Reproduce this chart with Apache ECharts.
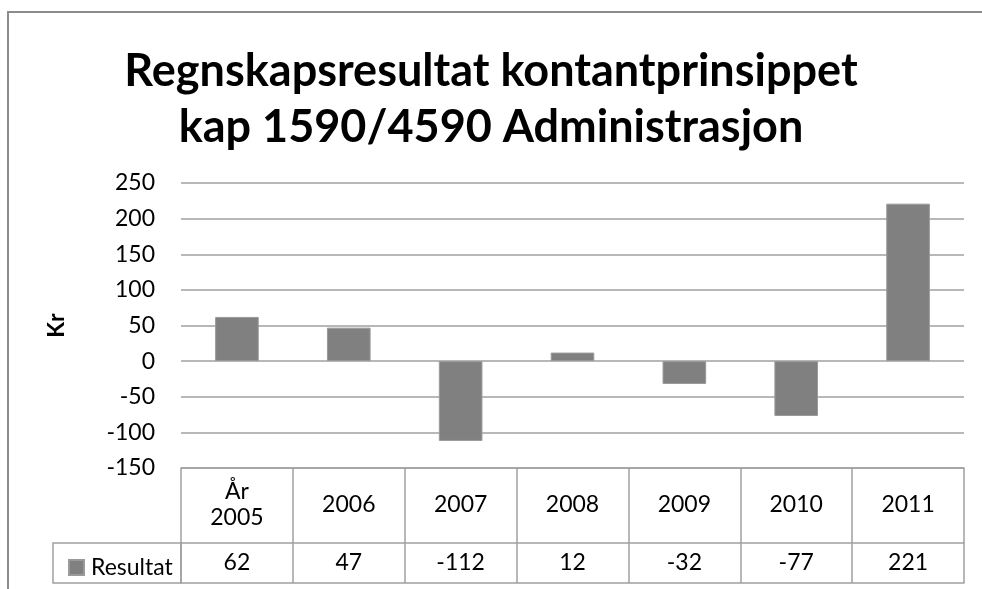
<!DOCTYPE html>
<html>
<head>
<meta charset="utf-8">
<script src="https://cdn.jsdelivr.net/npm/echarts@6/dist/echarts.min.js"></script>
<style>
  html, body { margin: 0; padding: 0; background: #fff; }
  #chart { width: 982px; height: 589px; }
</style>
</head>
<body>
<div id="chart"></div>
<script>
  // data
  var categories = ['År\n2005', '2006', '2007', '2008', '2009', '2010', '2011'];
  var resultat = [62, 47, -112, 12, -32, -77, 221];
  var seriesName = 'Resultat';
  var titleText = 'Regnskapsresultat kontantprinsippet\nkap 1590/4590 Administrasjon';

  var font = 'Lato, "Open Sans", sans-serif';
  var lineColor = '#a0a0a0';

  var chart = echarts.init(document.getElementById('chart'));
  chart.setOption({
    animation: false,
    textStyle: { fontFamily: font },
    title: {
      text: titleText,
      left: 'center',
      top: 43,
      padding: [0, 0, 0, 40],
      textStyle: { fontFamily: font, fontSize: 45, fontWeight: 'bold', color: '#000', lineHeight: 56 }
    },
    legend: {
      data: [seriesName],
      left: 63,
      top: 551,
      itemWidth: 15,
      itemHeight: 15,
      icon: 'rect',
      itemGap: 0,
      textStyle: { fontFamily: font, fontSize: 23, color: '#000', padding: [0, 0, 0, 2] }
    },
    grid: { left: 181, right: 18, top: 183, bottom: 121, containLabel: false },
    xAxis: [{
      type: 'category',
      data: categories,
      position: 'bottom',
      axisLine: { show: true, onZero: false, lineStyle: { color: lineColor, width: 1.5 } },
      axisTick: { show: true, interval: 0, length: 115, lineStyle: { color: lineColor, width: 1.5 } },
      axisLabel: { interval: 0, margin: 37, verticalAlign: 'middle', fontSize: 23, lineHeight: 26, color: '#000' }
    }, {
      type: 'category',
      data: resultat.map(String),
      position: 'bottom',
      offset: 75,
      axisLine: { show: true, onZero: false, lineStyle: { color: lineColor, width: 1.5 } },
      axisTick: { show: false },
      axisLabel: { interval: 0, margin: 20, verticalAlign: 'middle', fontSize: 23, color: '#000' }
    }, {
      type: 'category',
      data: categories,
      position: 'bottom',
      offset: 115,
      axisLine: { show: true, onZero: false, lineStyle: { color: lineColor, width: 1.5 } },
      axisTick: { show: false },
      axisLabel: { show: false }
    }],
    yAxis: {
      type: 'value',
      min: -150,
      max: 250,
      interval: 50,
      name: 'Kr',
      nameLocation: 'middle',
      nameRotate: 90,
      nameGap: 113,
      nameTextStyle: { fontFamily: font, fontSize: 23, fontWeight: 'bold', color: '#000' },
      axisLine: { show: false },
      axisTick: { show: false },
      axisLabel: { fontSize: 23, margin: 26, color: '#000' },
      splitLine: { lineStyle: { color: lineColor, width: 1.5 } }
    },
    graphic: [{
      type: 'rect',
      shape: { x: 8, y: 12, width: 1000, height: 600 },
      style: { fill: 'none', stroke: '#8c8c8c', lineWidth: 2 },
      silent: true
    }, {
      type: 'rect',
      shape: { x: 53, y: 543, width: 128, height: 40 },
      style: { fill: 'none', stroke: lineColor, lineWidth: 1.5 },
      silent: true
    }],
    series: [{
      name: seriesName,
      type: 'bar',
      data: resultat,
      barWidth: '39%',
      itemStyle: { color: '#808080', borderColor: '#9a9a9a', borderWidth: 1 }
    }]
  });
</script>
</body>
</html>
